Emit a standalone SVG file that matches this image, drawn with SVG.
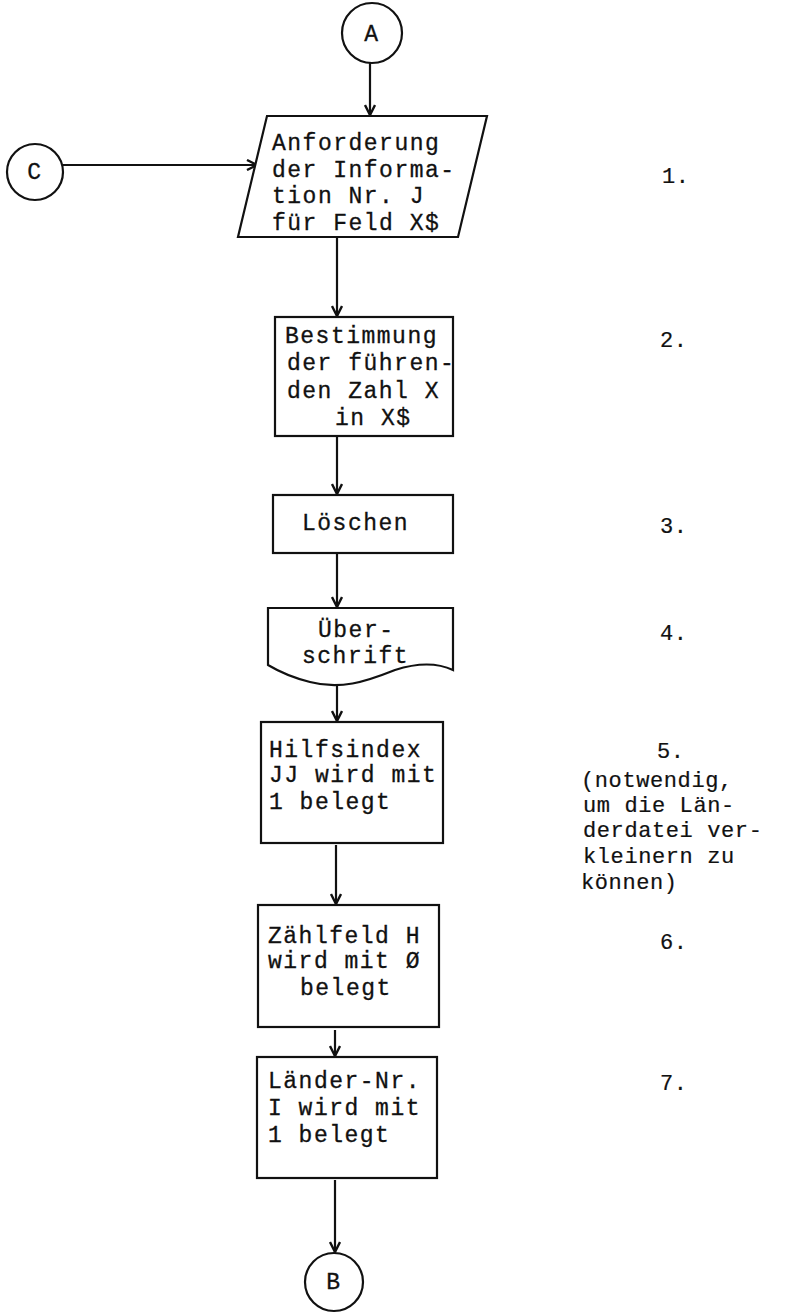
<svg xmlns="http://www.w3.org/2000/svg" width="804" height="1313" viewBox="0 0 804 1313">
<defs>
<style>
.s{fill:#fff;stroke:#111;stroke-width:2.2}
.t{font-family:"Liberation Mono","Courier New",monospace;font-size:23px;letter-spacing:1.5px;fill:#111;stroke:#111;stroke-width:0.3}
.n{font-family:"Liberation Mono","Courier New",monospace;font-size:22px;letter-spacing:0.6px;fill:#111;stroke:#111;stroke-width:0.2}
.c{fill:none;stroke:#111;stroke-width:2.2}
</style>
<marker id="ah" viewBox="0 0 12 12" refX="11" refY="6" markerWidth="12" markerHeight="12" markerUnits="userSpaceOnUse" orient="auto">
<path d="M1,1 L11,6 L1,11" fill="none" stroke="#111" stroke-width="2.4"/>
</marker>
</defs>
<rect width="804" height="1313" fill="#fff"/>
<g id="connectors">
<line class="c" x1="370" y1="63" x2="370" y2="115" marker-end="url(#ah)"/>
<line class="c" x1="63" y1="165" x2="257" y2="165" marker-end="url(#ah)"/>
<line class="c" x1="337" y1="237" x2="337" y2="316" marker-end="url(#ah)"/>
<line class="c" x1="337" y1="436" x2="337" y2="494" marker-end="url(#ah)"/>
<line class="c" x1="337" y1="553" x2="337" y2="607" marker-end="url(#ah)"/>
<line class="c" x1="337" y1="686" x2="337" y2="721" marker-end="url(#ah)"/>
<line class="c" x1="336" y1="845" x2="336" y2="904" marker-end="url(#ah)"/>
<line class="c" x1="335" y1="1030" x2="335" y2="1056" marker-end="url(#ah)"/>
<line class="c" x1="335" y1="1180" x2="335" y2="1252" marker-end="url(#ah)"/>
</g>
<g id="A">
<circle class="s" cx="372" cy="33" r="30"/>
<text class="t" x="372" y="41" text-anchor="middle">A</text>
</g>
<g id="C">
<circle class="s" cx="35" cy="172" r="28"/>
<text class="t" x="35" y="179" text-anchor="middle">C</text>
</g>
<g id="n1">
<polygon class="s" points="267,116 487,116 458,237 238,237"/>
<text class="t" x="272" y="150">Anforderung</text>
<text class="t" x="272" y="177">der Informa-</text>
<text class="t" x="272" y="203">tion Nr. J</text>
<text class="t" x="272" y="230">für Feld X$</text>
</g>
<g id="n2">
<rect class="s" x="275" y="317" width="178" height="119"/>
<text class="t" x="285" y="343">Bestimmung</text>
<text class="t" x="287" y="370">der führen-</text>
<text class="t" x="287" y="398">den Zahl X</text>
<text class="t" x="335" y="425">in X$</text>
</g>
<g id="n3">
<rect class="s" x="273" y="495" width="180" height="58"/>
<text class="t" x="302" y="530">Löschen</text>
</g>
<g id="n4">
<path class="s" d="M268,665 L268,608 L453,608 L453,670 C440,664 420,662 395,670 C365,682 340,690 310,682 C290,677 278,671 268,665 Z"/>
<text class="t" x="318" y="637">Über-</text>
<text class="t" x="302" y="663">schrift</text>
</g>
<g id="n5">
<rect class="s" x="261" y="722" width="182" height="121"/>
<text class="t" x="269" y="757">Hilfsindex</text>
<text class="t" x="269" y="782">JJ wird mit</text>
<text class="t" x="269" y="809">1 belegt</text>
</g>
<g id="n6">
<rect class="s" x="258" y="905" width="181" height="122"/>
<text class="t" x="268" y="943">Zählfeld H</text>
<text class="t" x="268" y="968">wird mit Ø</text>
<text class="t" x="300" y="995">belegt</text>
</g>
<g id="n7">
<rect class="s" x="257" y="1057" width="180" height="121"/>
<text class="t" x="268" y="1088">Länder-Nr.</text>
<text class="t" x="268" y="1115">I wird mit</text>
<text class="t" x="268" y="1142">1 belegt</text>
</g>
<g id="B">
<circle class="s" cx="334" cy="1282" r="29"/>
<text class="t" x="334" y="1289" text-anchor="middle">B</text>
</g>
<g id="notes">
<text class="n" x="662" y="183">1.</text>
<text class="n" x="660" y="347">2.</text>
<text class="n" x="660" y="533">3.</text>
<text class="n" x="660" y="640">4.</text>
<text class="n" x="657" y="758">5.</text>
<text class="n" x="581" y="787">(notwendig,</text>
<text class="n" x="583" y="812">um die Län-</text>
<text class="n" x="583" y="837">derdatei ver-</text>
<text class="n" x="583" y="863">kleinern zu</text>
<text class="n" x="581" y="889">können)</text>
<text class="n" x="660" y="949">6.</text>
<text class="n" x="660" y="1090">7.</text>
</g>
</svg>
